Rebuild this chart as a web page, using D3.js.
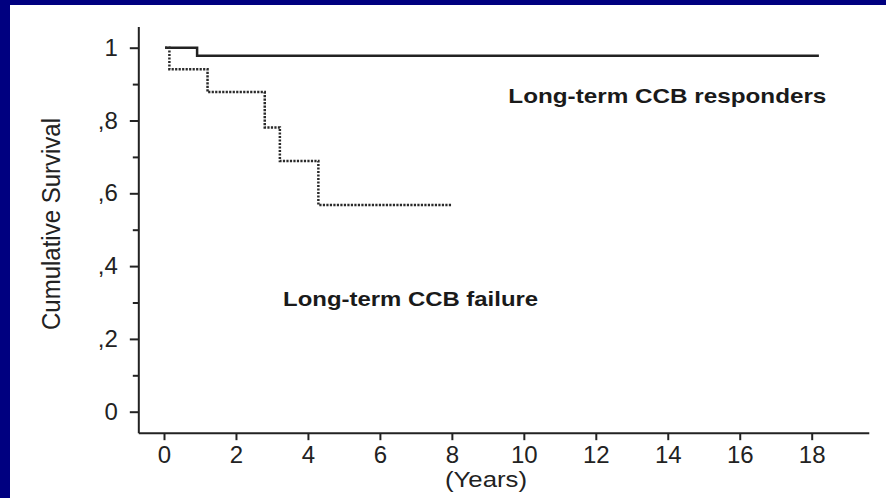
<!DOCTYPE html>
<html>
<head>
<meta charset="utf-8">
<script src="https://cdn.jsdelivr.net/npm/d3@7"></script>
<style>
  html, body { margin:0; padding:0; background:#000080; }
  #chart { position:absolute; left:10px; top:5px; width:876px; height:493px; background:#fff; }
  svg { position:absolute; left:0; top:0; }
</style>
</head>
<body>
<div id="chart"></div>
<svg id="svg" width="886" height="498"></svg>
<script>
// Kaplan-Meier steps
const respTime = [0.03, 0.92, 18.2];
const respSurv = [1, 0.978, 0.978];

const failTime = [0.03, 0.15, 1.21, 2.8, 3.22, 4.29, 8.0];
const failSurv = [1, 0.941, 0.878, 0.781, 0.689, 0.568, 0.568];

const xTicks = [0, 2, 4, 6, 8, 10, 12, 14, 16, 18];
const yMajor = [0, 0.2, 0.4, 0.6, 0.8, 1];
const yMinor = [0.1, 0.3, 0.5, 0.7, 0.9];

const labels = [
  { text:'Long-term CCB responders', t:9.57, s:0.848, w:318 },
  { text:'Long-term CCB failure', t:3.31, s:0.29, w:255 }
];

const svg = d3.select('#svg');
const x = d3.scaleLinear().domain([0, 18]).range([164, 811.7]);
const y = d3.scaleLinear().domain([0, 1]).range([411.7, 47.7]);
const ink = '#222';
const font = '"Liberation Sans", Arial, sans-serif';

// axes lines
svg.append('line').attr('x1', x(-0.7)).attr('x2', x(19.6))
  .attr('y1', y(-0.059)).attr('y2', y(-0.059))
  .attr('stroke', ink).attr('stroke-width', 2);
svg.append('line').attr('x1', x(-0.7)).attr('x2', x(-0.7))
  .attr('y1', y(-0.059)).attr('y2', y(1.057))
  .attr('stroke', ink).attr('stroke-width', 2);

// y axis
const fmt = v => v === 0 ? '0' : v === 1 ? '1' : ',' + Math.round(v * 10);
const gy = svg.append('g').attr('transform', `translate(${x(-0.7)},0)`)
  .call(d3.axisLeft(y).tickValues(yMajor).tickFormat(fmt).tickSize(9).tickPadding(12));
gy.append('g')
  .call(d3.axisLeft(y).tickValues(yMinor).tickFormat('').tickSize(6))
  .select('.domain').remove();
gy.select('.domain').remove();

// x axis
const gx = svg.append('g').attr('transform', `translate(0,${y(-0.059)})`)
  .call(d3.axisBottom(x).tickValues(xTicks).tickFormat(d3.format('d')).tickSize(7).tickPadding(6));
gx.select('.domain').remove();

svg.selectAll('.tick line').attr('stroke', ink).attr('stroke-width', 2);
svg.selectAll('.tick text').attr('fill', ink).attr('font-size', 24).attr('font-family', font);

// titles
svg.append('text')
  .attr('transform', `translate(60,224) rotate(-90)`)
  .attr('text-anchor', 'middle')
  .attr('font-family', font).attr('font-size', 25).attr('fill', ink)
  .attr('textLength', 212).attr('lengthAdjust', 'spacingAndGlyphs')
  .text('Cumulative Survival');
svg.append('text')
  .attr('x', 486).attr('y', 487)
  .attr('text-anchor', 'middle')
  .attr('font-family', font).attr('font-size', 22).attr('fill', ink)
  .attr('textLength', 82).attr('lengthAdjust', 'spacingAndGlyphs')
  .text('(Years)');

// curves
const step = d3.line().x(d => x(d[0])).y(d => y(d[1])).curve(d3.curveStepAfter);
svg.append('path').datum(d3.zip(respTime, respSurv))
  .attr('d', step).attr('fill', 'none').attr('stroke', ink).attr('stroke-width', 2.5);
svg.append('path').datum(d3.zip(failTime, failSurv))
  .attr('d', step).attr('fill', 'none').attr('stroke', '#2a2a2a')
  .attr('stroke-width', 2.5).attr('stroke-dasharray', '2.2,1.3');

// curve labels
svg.selectAll('.lab').data(labels).join('text')
  .attr('x', d => x(d.t)).attr('y', d => y(d.s))
  .attr('font-family', font).attr('font-weight', 'bold').attr('font-size', 21)
  .attr('fill', '#1a1a1a')
  .attr('textLength', d => d.w).attr('lengthAdjust', 'spacingAndGlyphs')
  .text(d => d.text);
</script>
</body>
</html>
